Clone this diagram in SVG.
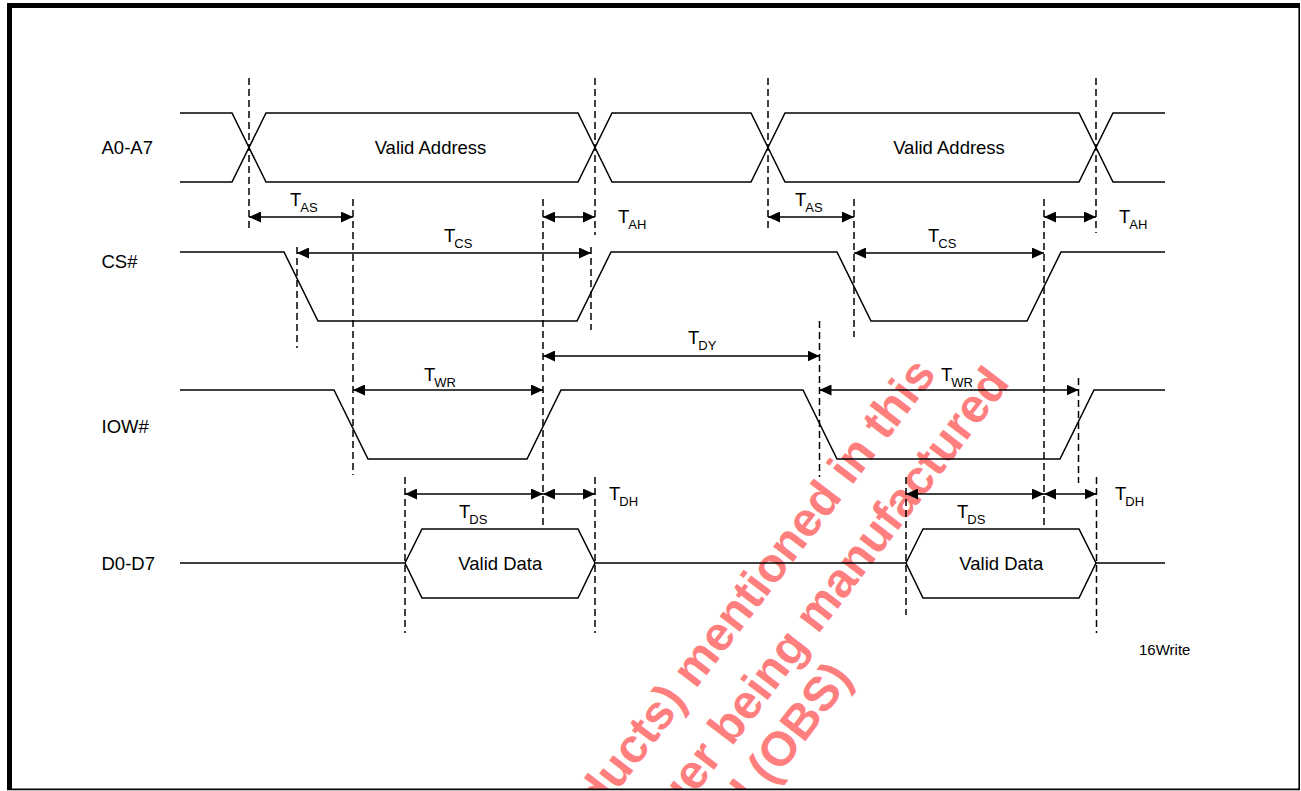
<svg xmlns="http://www.w3.org/2000/svg" width="1301" height="791" viewBox="0 0 1301 791">
<style>
.sig{fill:none;stroke:#000;stroke-width:1.5;stroke-linejoin:miter}
.dash{fill:none;stroke:#000;stroke-width:1.5;stroke-dasharray:7,4}
.arr{fill:none;stroke:#000;stroke-width:1.5;marker-start:url(#ah);marker-end:url(#ah)}
.lbl{font-family:"Liberation Sans",Arial,sans-serif;font-size:18.5px;fill:#000}
.sub{font-size:13px}
.wm{font-family:"Liberation Sans",Arial,sans-serif;font-weight:bold;font-size:48px;fill:#ff7f7f}
</style>
<defs>
<marker id="ah" markerUnits="userSpaceOnUse" markerWidth="12" markerHeight="11" refX="12" refY="5.5" orient="auto-start-reverse">
<path d="M0,0 L12,5.5 L0,11 Z" fill="#000"/>
</marker>
<clipPath id="frame"><rect x="12" y="8" width="1287" height="781"/></clipPath>
</defs>
<rect width="1301" height="791" fill="#fff"/>
<g id="watermark" clip-path="url(#frame)">
<text class="wm" transform="translate(937.4,374.4) rotate(-52.5)" text-anchor="end">ducts) mentioned in this</text>
<text class="wm" transform="translate(678,817) rotate(-52.5)">ger being manufactured</text>
<text class="wm" transform="translate(745,820) rotate(-52.5)">d (OBS)</text>
</g>
<g id="frame-border">
<rect x="7" y="3" width="1293" height="5" fill="#000"/>
<rect x="7" y="3" width="5" height="787" fill="#000"/>
<line x1="1299.2" y1="3" x2="1299.2" y2="790" stroke="#000" stroke-width="1.6"/>
<line x1="7" y1="789.4" x2="1300" y2="789.4" stroke="#000" stroke-width="1.6"/>
</g>
<g id="signal-A0-A7">
<text class="lbl" x="101.5" y="154">A0-A7</text>
<path class="sig" d="M180,113 H232 L266,182 H578 L612,113 H751 L785,182 H1079 L1113,113 H1165"/>
<path class="sig" d="M180,182 H232 L266,113 H578 L612,182 H751 L785,113 H1079 L1113,182 H1165"/>
<text class="lbl" x="430.5" y="154" text-anchor="middle">Valid Address</text>
<text class="lbl" x="949" y="154" text-anchor="middle">Valid Address</text>
</g>
<g id="signal-CS">
<text class="lbl" x="101.5" y="268">CS#</text>
<path class="sig" d="M180,252 H284 L318,321 H577 L611,252 H837 L871,321 H1027 L1061,252 H1165"/>
</g>
<g id="signal-IOW">
<text class="lbl" x="101.5" y="433">IOW#</text>
<path class="sig" d="M180,390 H334 L368,459 H527 L561,390 H803 L837,459 H1060 L1094,390 H1165"/>
</g>
<g id="signal-D0-D7">
<text class="lbl" x="101.5" y="570">D0-D7</text>
<path class="sig" d="M180,563 H405 M595,563 H906 M1096,563 H1165"/>
<path class="sig" d="M405,563 L422,529 H578 L595,563 L578,598 H422 Z"/>
<path class="sig" d="M906,563 L923,529 H1079 L1096,563 L1079,598 H923 Z"/>
<text class="lbl" x="500.3" y="570" text-anchor="middle">Valid Data</text>
<text class="lbl" x="1001.3" y="570" text-anchor="middle">Valid Data</text>
</g>
<g id="guides">
<line class="dash" x1="249" y1="78" x2="249" y2="232"/>
<line class="dash" x1="595" y1="78" x2="595" y2="235"/>
<line class="dash" x1="768" y1="78" x2="768" y2="232"/>
<line class="dash" x1="1096" y1="78" x2="1096" y2="233"/>
<line class="dash" x1="297" y1="247" x2="297" y2="348"/>
<line class="dash" x1="353" y1="199" x2="353" y2="475"/>
<line class="dash" x1="543" y1="199" x2="543" y2="529"/>
<line class="dash" x1="591" y1="247" x2="591" y2="330"/>
<line class="dash" x1="854" y1="199" x2="854" y2="337"/>
<line class="dash" x1="1044" y1="199" x2="1044" y2="529"/>
<line class="dash" x1="819.5" y1="321" x2="819.5" y2="477"/>
<line class="dash" x1="1078.5" y1="378" x2="1078.5" y2="483"/>
<line class="dash" x1="405" y1="477" x2="405" y2="633"/>
<line class="dash" x1="595" y1="477" x2="595" y2="633"/>
<line class="dash" x1="906" y1="477" x2="906" y2="615"/>
<line class="dash" x1="1096.5" y1="477" x2="1096.5" y2="633"/>
</g>
<g id="connectors">
<line class="arr" x1="249" y1="217" x2="353" y2="217"/>
<line class="arr" x1="543" y1="217" x2="595" y2="217"/>
<line class="arr" x1="297" y1="253" x2="591" y2="253"/>
<line class="arr" x1="543" y1="356" x2="819.5" y2="356"/>
<line class="arr" x1="353" y1="390" x2="543" y2="390"/>
<line class="arr" x1="768" y1="217" x2="854" y2="217"/>
<line class="arr" x1="1044" y1="217" x2="1096" y2="217"/>
<line class="arr" x1="854" y1="253" x2="1044" y2="253"/>
<line class="arr" x1="819.5" y1="390" x2="1078.5" y2="390"/>
<line class="arr" x1="405" y1="494" x2="543" y2="494"/>
<line class="arr" x1="543" y1="494" x2="595" y2="494"/>
<line class="arr" x1="906" y1="494" x2="1044" y2="494"/>
<line class="arr" x1="1044" y1="494" x2="1096.5" y2="494"/>
</g>
<g id="timing-labels">
<text class="lbl" x="290" y="206">T<tspan class="sub" dx="-1" dy="6">AS</tspan></text>
<text class="lbl" x="618" y="223">T<tspan class="sub" dx="-1" dy="6">AH</tspan></text>
<text class="lbl" x="444" y="242">T<tspan class="sub" dx="-1" dy="6">CS</tspan></text>
<text class="lbl" x="688" y="344">T<tspan class="sub" dx="-1" dy="6">DY</tspan></text>
<text class="lbl" x="424" y="381">T<tspan class="sub" dx="-1" dy="6">WR</tspan></text>
<text class="lbl" x="795" y="206">T<tspan class="sub" dx="-1" dy="6">AS</tspan></text>
<text class="lbl" x="1119" y="223">T<tspan class="sub" dx="-1" dy="6">AH</tspan></text>
<text class="lbl" x="928" y="242">T<tspan class="sub" dx="-1" dy="6">CS</tspan></text>
<text class="lbl" x="941" y="381">T<tspan class="sub" dx="-1" dy="6">WR</tspan></text>
<text class="lbl" x="459" y="518">T<tspan class="sub" dx="-1" dy="6">DS</tspan></text>
<text class="lbl" x="609" y="500">T<tspan class="sub" dx="-1" dy="6">DH</tspan></text>
<text class="lbl" x="957" y="518">T<tspan class="sub" dx="-1" dy="6">DS</tspan></text>
<text class="lbl" x="1115" y="500">T<tspan class="sub" dx="-1" dy="6">DH</tspan></text>
</g>
<text class="lbl" x="1139" y="655" style="font-size:15px">16Write</text>
</svg>
